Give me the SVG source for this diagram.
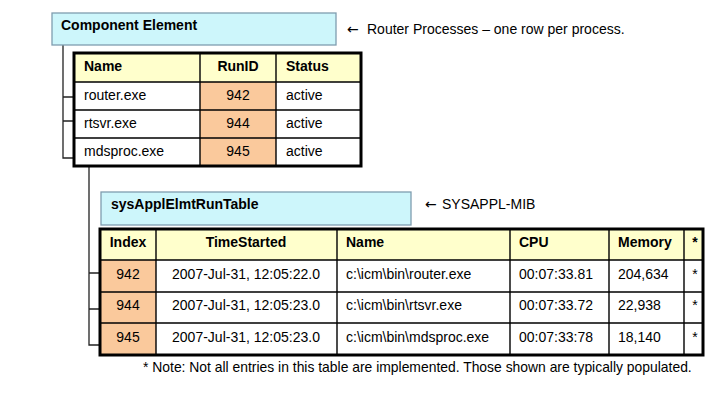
<svg xmlns="http://www.w3.org/2000/svg" width="705" height="405" viewBox="0 0 705 405">
<style>
text{font-family:"Liberation Sans",Arial,sans-serif;font-size:14px;fill:#000}
.b{font-weight:bold}
.c{text-anchor:middle}
.arr{font-family:"DejaVu Sans",sans-serif;font-size:14px}
.title{fill:#cdf6fb;stroke:#7f9daf;stroke-width:1.3}
.hdr{fill:#ffffcc}
.org{fill:#fac99c}
.wht{fill:#ffffff}
.grid{stroke:#000;stroke-width:1.4;fill:none}
.frame{stroke:#000;stroke-width:3;fill:none}
.conn{stroke:#222;stroke-width:1.3;fill:none}
</style>
<rect width="705" height="405" fill="#fff"/>
<g id="connectors">
<path class="conn" d="M63,45 V158 H74 M63,97 H74 M63,121 H74"/>
<path class="conn" d="M89,166 V345 H100 M89,273 H100 M89,309 H100"/>
</g>
<g id="component-element">
<rect class="title" x="52" y="13" width="284" height="32"/>
<text class="b" x="61" y="30">Component Element</text>
</g>
<g id="note-router">
<text x="347" y="34"><tspan class="arr">←</tspan><tspan x="367">Router Processes – one row per process.</tspan></text>
</g>
<g id="router-table">
<rect class="wht" x="74" y="53" width="287" height="113"/>
<rect class="hdr" x="74" y="53" width="287" height="29"/>
<rect class="org" x="200" y="82" width="76" height="84"/>
<path class="grid" d="M74,82 H361 M74,110 H361 M74,138 H361 M200,53 V166 M276,53 V166"/>
<rect class="frame" x="74" y="53" width="287" height="113"/>
<text class="b" x="84" y="71">Name</text>
<text class="b c" x="238" y="71">RunID</text>
<text class="b" x="286" y="71">Status</text>
<text x="84" y="100">router.exe</text>
<text class="c" x="238" y="100">942</text>
<text x="286" y="100">active</text>
<text x="84" y="128">rtsvr.exe</text>
<text class="c" x="238" y="128">944</text>
<text x="286" y="128">active</text>
<text x="84" y="156">mdsproc.exe</text>
<text class="c" x="238" y="156">945</text>
<text x="286" y="156">active</text>
</g>
<g id="sysappl-title">
<rect class="title" x="101" y="192" width="310" height="33"/>
<text class="b" x="111" y="209">sysApplElmtRunTable</text>
</g>
<g id="note-mib">
<text x="425" y="209"><tspan class="arr">←</tspan><tspan x="442">SYSAPPL-MIB</tspan></text>
</g>
<g id="run-table">
<rect class="wht" x="100" y="229" width="603" height="126"/>
<rect class="hdr" x="100" y="229" width="603" height="31"/>
<rect class="org" x="100" y="260" width="56" height="95"/>
<path class="grid" d="M100,260 H703 M100,292 H703 M100,323 H703 M156,229 V355 M337,229 V355 M510,229 V355 M609,229 V355 M684,229 V355"/>
<rect class="frame" x="100" y="229" width="603" height="126"/>
<text class="b c" x="128" y="247">Index</text>
<text class="b c" x="246" y="247">TimeStarted</text>
<text class="b" x="346" y="247">Name</text>
<text class="b" x="519" y="247">CPU</text>
<text class="b" x="618" y="247">Memory</text>
<text class="b c" x="695" y="247">*</text>
<text class="c" x="128" y="279">942</text>
<text class="c" x="246" y="279">2007-Jul-31, 12:05:22.0</text>
<text x="346" y="279">c:\icm\bin\router.exe</text>
<text x="519" y="279">00:07:33.81</text>
<text x="618" y="279">204,634</text>
<text class="c" x="695" y="279">*</text>
<text class="c" x="128" y="310">944</text>
<text class="c" x="246" y="310">2007-Jul-31, 12:05:23.0</text>
<text x="346" y="310">c:\icm\bin\rtsvr.exe</text>
<text x="519" y="310">00:07:33.72</text>
<text x="618" y="310">22,938</text>
<text class="c" x="695" y="310">*</text>
<text class="c" x="128" y="342">945</text>
<text class="c" x="246" y="342">2007-Jul-31, 12:05:23.0</text>
<text x="346" y="342">c:\icm\bin\mdsproc.exe</text>
<text x="519" y="342">00:07:33:78</text>
<text x="618" y="342">18,140</text>
<text class="c" x="695" y="342">*</text>
</g>
<g id="footnote">
<text x="143" y="372" style="font-size:13.9px">* Note: Not all entries in this table are implemented. Those shown are typically populated.</text>
</g>
</svg>
